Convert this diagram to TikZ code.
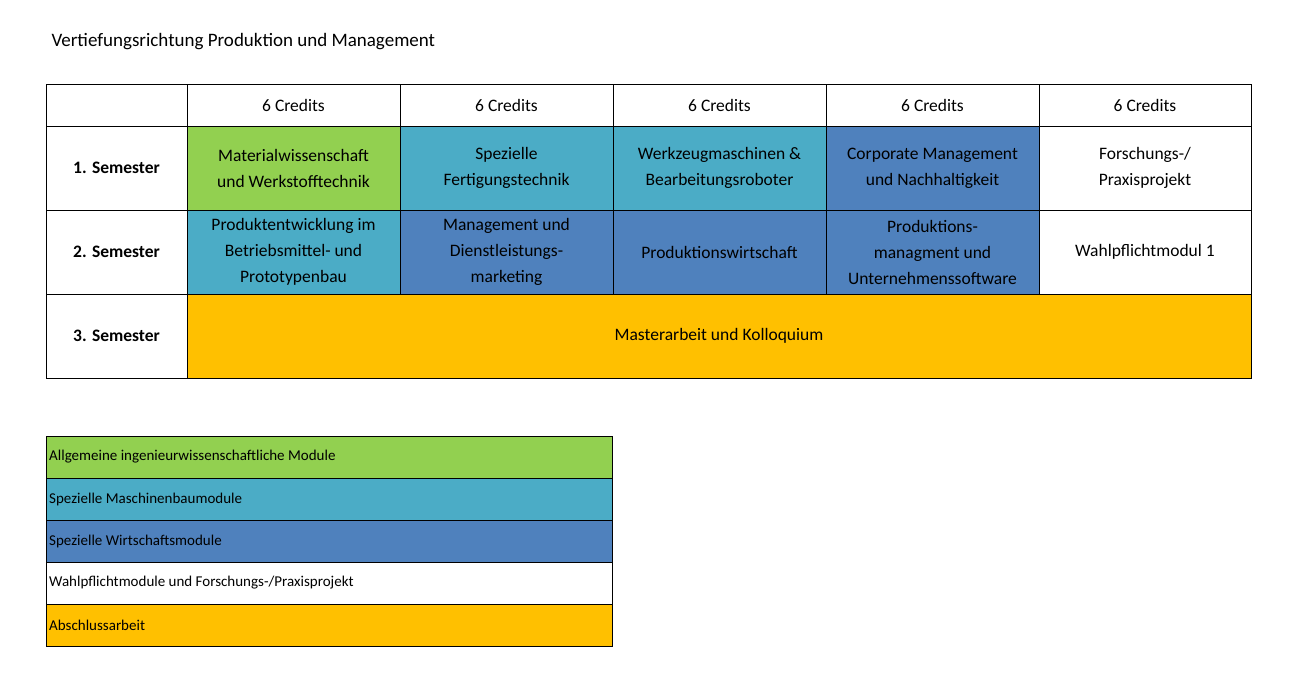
\documentclass[tikz,border=0pt]{standalone}
\usepackage{fontspec}
\setmainfont{Carlito}
\definecolor{cg}{HTML}{92D050}
\definecolor{ct}{HTML}{4BACC6}
\definecolor{cb}{HTML}{4F81BD}
\definecolor{co}{HTML}{FFC000}
\begin{document}
\begin{tikzpicture}[x=1pt,y=-1pt,
 cell/.style={draw=black,line width=0.8pt,inner sep=0pt,align=center,font=\fontsize{17.5}{26}\selectfont},
 leg/.style={draw=black,line width=0.8pt,inner sep=3pt,anchor=west,font=\fontsize{15}{18}\selectfont}]
\useasboundingbox (0,0) rectangle (1300,675);
\node[anchor=west,font=\fontsize{19}{22}\selectfont] (title) at (48,42) {Vertiefungsrichtung Produktion und Management};
% helper macro
\def\C#1#2#3#4#5#6#7{\path[cell,fill=#6] (#1,#2) rectangle (#3,#4); \node[cell,draw=none] (#5) at ({(#1+#3)/2},{(#2+#4)/2}) {#7};}
\C{46}{84}{187}{126}{h0}{white}{}
\C{187}{84}{400}{126}{h1}{white}{6 Credits}
\C{400}{84}{613}{126}{h2}{white}{6 Credits}
\C{613}{84}{826}{126}{h3}{white}{6 Credits}
\C{826}{84}{1039}{126}{h4}{white}{6 Credits}
\C{1039}{84}{1251}{126}{h5}{white}{6 Credits}
\C{46}{126}{187}{210}{s1}{white}{\textbf{1. Semester}}
\C{187}{126}{400}{210}{a1}{cg}{Materialwissenschaft\\und Werkstofftechnik}
\C{400}{126}{613}{210}{a2}{ct}{Spezielle\\Fertigungstechnik}
\C{613}{126}{826}{210}{a3}{ct}{Werkzeugmaschinen \&\\Bearbeitungsroboter}
\C{826}{126}{1039}{210}{a4}{cb}{Corporate Management\\und Nachhaltigkeit}
\C{1039}{126}{1251}{210}{a5}{white}{Forschungs-/\\Praxisprojekt}
\C{46}{210}{187}{294}{s2}{white}{\textbf{2. Semester}}
\C{187}{210}{400}{294}{b1}{ct}{Produktentwicklung im\\Betriebsmittel- und\\Prototypenbau}
\C{400}{210}{613}{294}{b2}{cb}{Management und\\Dienstleistungs-\\marketing}
\C{613}{210}{826}{294}{b3}{cb}{Produktionswirtschaft}
\C{826}{210}{1039}{294}{b4}{cb}{Produktions-\\managment und\\Unternehmenssoftware}
\C{1039}{210}{1251}{294}{b5}{white}{Wahlpflichtmodul 1}
\C{46}{294}{187}{378}{s3}{white}{\textbf{3. Semester}}
\C{187}{294}{1251}{378}{c1}{co}{Masterarbeit und Kolloquium}
% legend
\def\L#1#2#3#4{\path[draw=black,line width=0.8pt,fill=#2] (46,#1) rectangle (612,#1+42); \node[anchor=west,inner sep=0pt,font=\fontsize{15}{18}\selectfont] (#3) at (49,#1+21) {#4};}
\L{436}{cg}{l1}{Allgemeine ingenieurwissenschaftliche Module}
\L{478}{ct}{l2}{Spezielle Maschinenbaumodule}
\L{520}{cb}{l3}{Spezielle Wirtschaftsmodule}
\L{562}{white}{l4}{Wahlpflichtmodule und Forschungs-/Praxisprojekt}
\L{604}{co}{l5}{Abschlussarbeit}
\end{tikzpicture}
\end{document}
